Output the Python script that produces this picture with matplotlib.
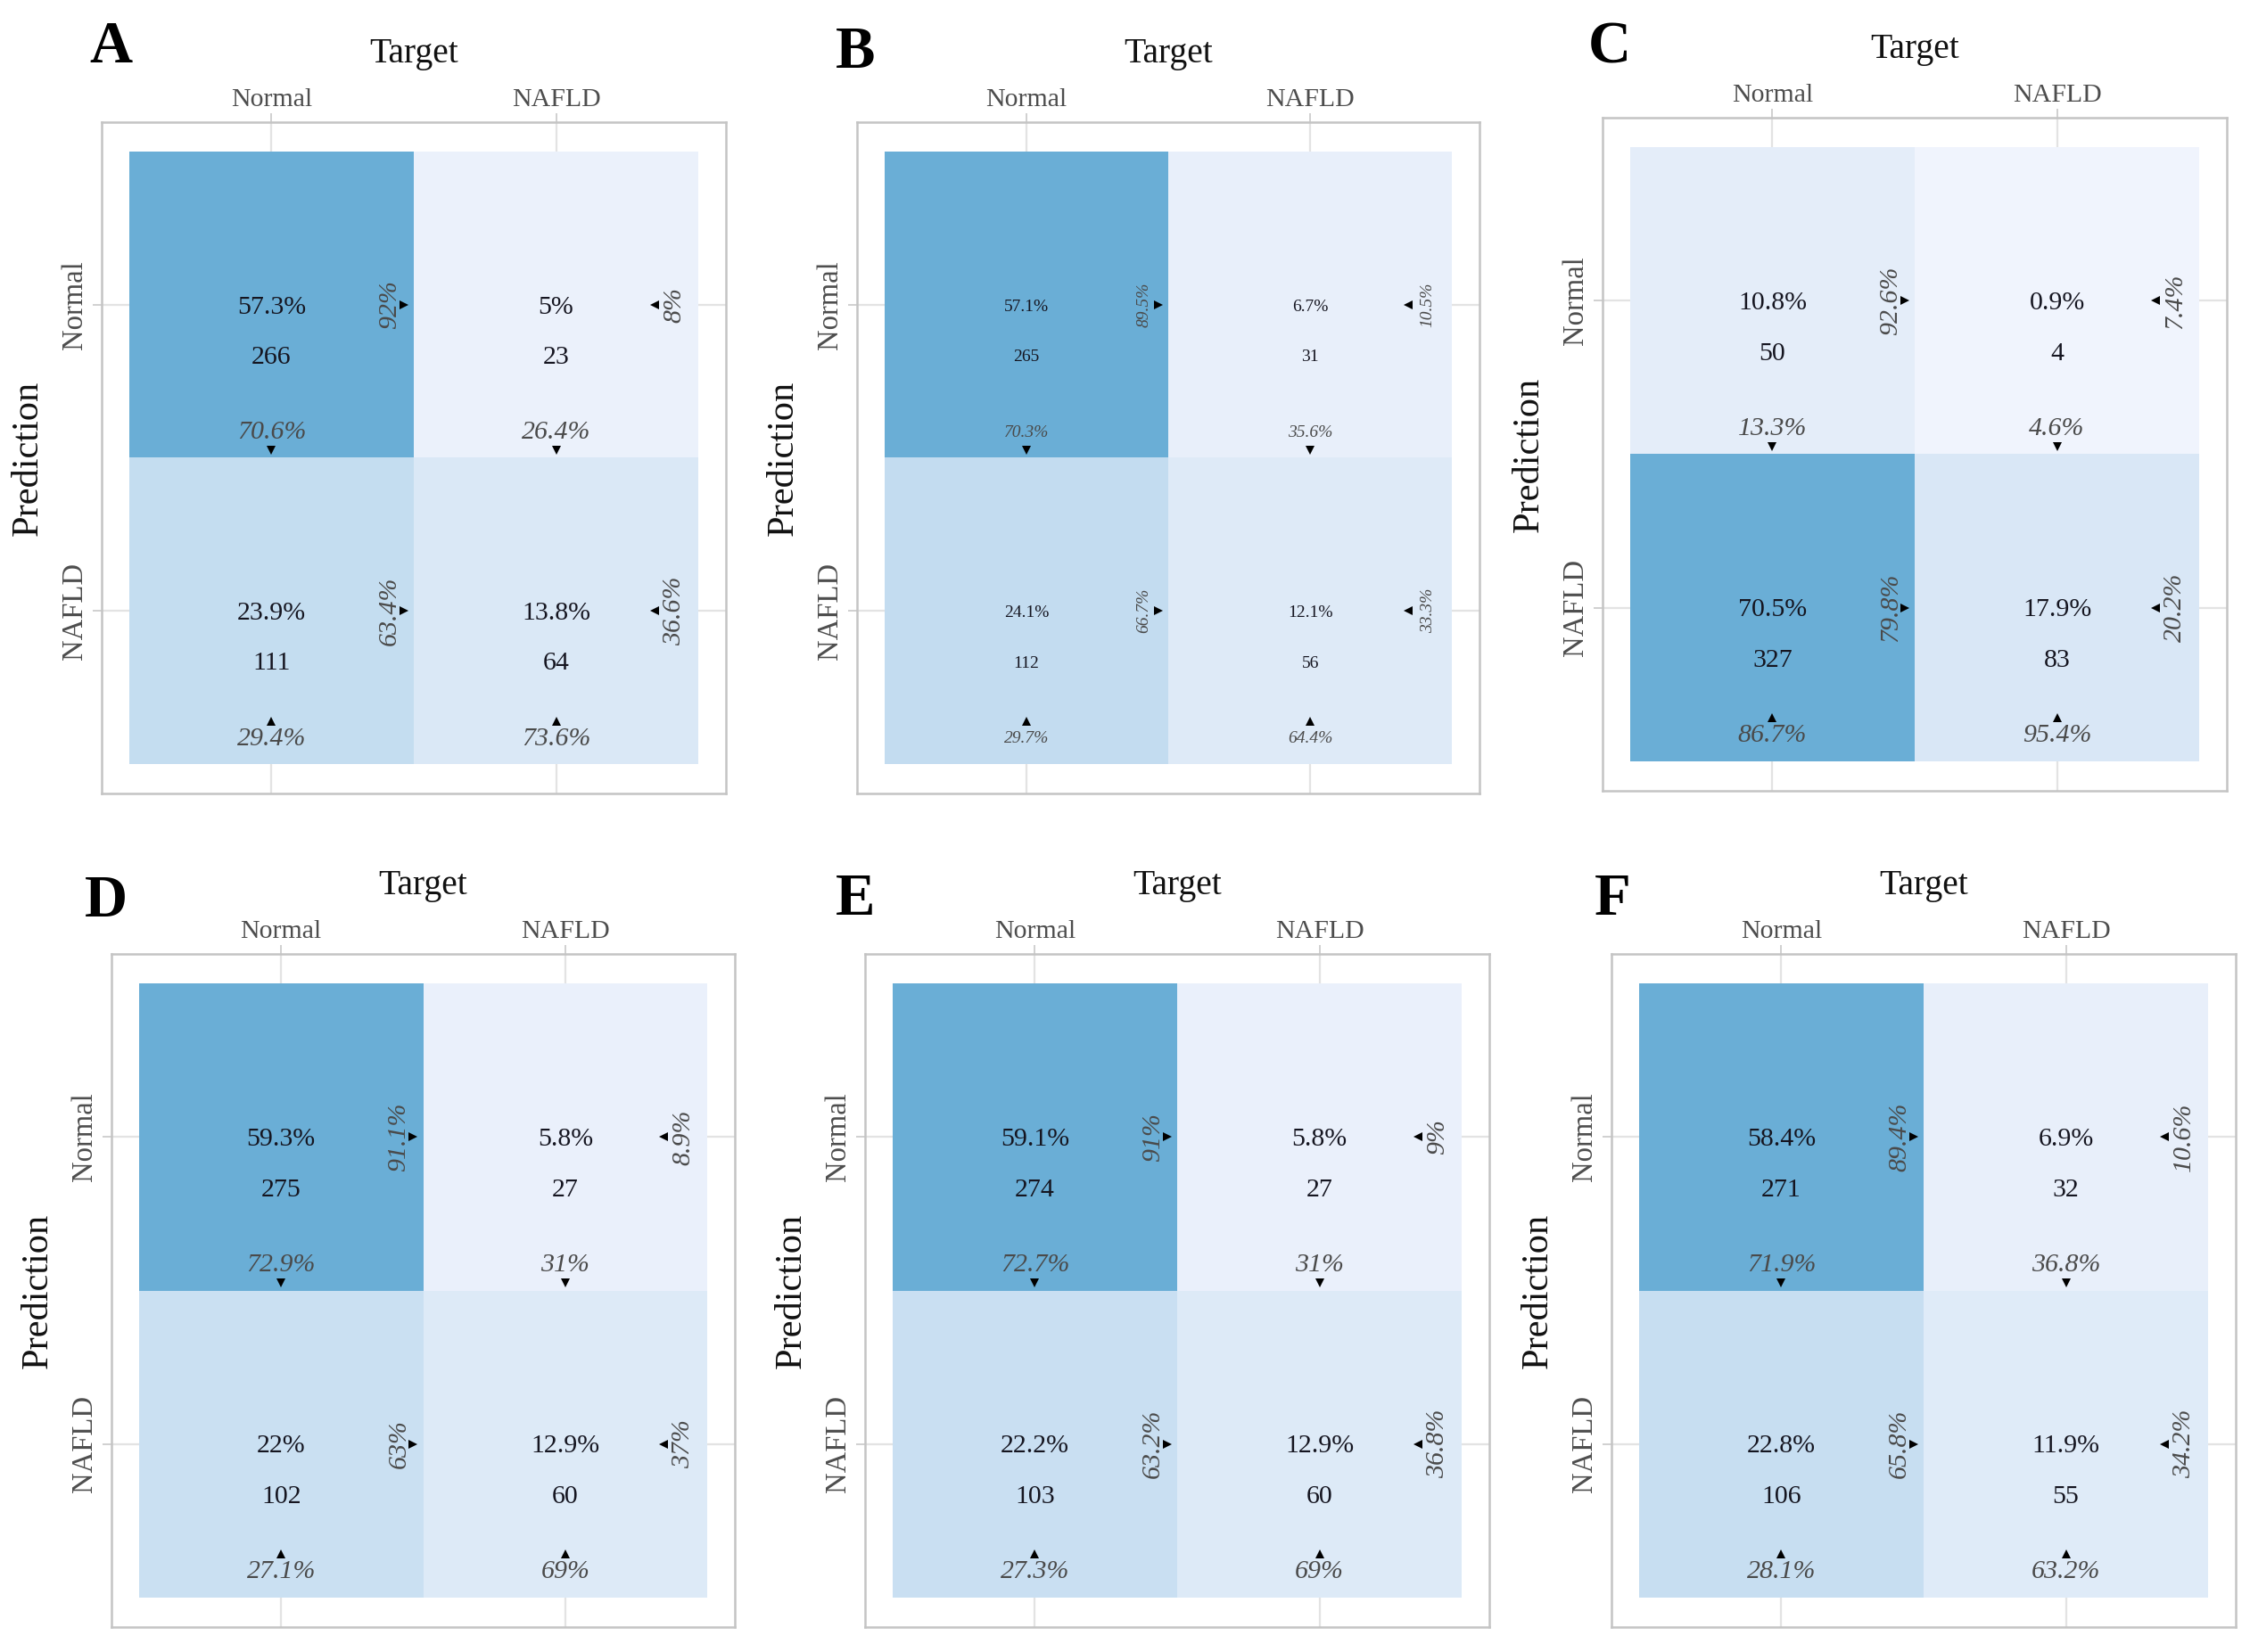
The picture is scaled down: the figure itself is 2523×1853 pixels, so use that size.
import numpy as np
import matplotlib
matplotlib.use("Agg")
import matplotlib.pyplot as plt
from matplotlib.colors import LinearSegmentedColormap, PowerNorm

plt.rcParams['font.family'] = ['Liberation Serif', 'DejaVu Serif']

# ---------------- data ----------------
panel_letters = ['A', 'B', 'C', 'D', 'E', 'F']
class_labels = ['Normal', 'NAFLD']  # rows = Prediction, cols = Target

counts_A = [[266, 23], [111, 64]]
total_pct_A = [[57.3, 5.0], [23.9, 13.8]]
col_pct_A = [[70.6, 26.4], [29.4, 73.6]]
row_pct_A = [[92.0, 8.0], [63.4, 36.6]]

counts_B = [[265, 31], [112, 56]]
total_pct_B = [[57.1, 6.7], [24.1, 12.1]]
col_pct_B = [[70.3, 35.6], [29.7, 64.4]]
row_pct_B = [[89.5, 10.5], [66.7, 33.3]]

counts_C = [[50, 4], [327, 83]]
total_pct_C = [[10.8, 0.9], [70.5, 17.9]]
col_pct_C = [[13.3, 4.6], [86.7, 95.4]]
row_pct_C = [[92.6, 7.4], [79.8, 20.2]]

counts_D = [[275, 27], [102, 60]]
total_pct_D = [[59.3, 5.8], [22.0, 12.9]]
col_pct_D = [[72.9, 31.0], [27.1, 69.0]]
row_pct_D = [[91.1, 8.9], [63.0, 37.0]]

counts_E = [[274, 27], [103, 60]]
total_pct_E = [[59.1, 5.8], [22.2, 12.9]]
col_pct_E = [[72.7, 31.0], [27.3, 69.0]]
row_pct_E = [[91.0, 9.0], [63.2, 36.8]]

counts_F = [[271, 32], [106, 55]]
total_pct_F = [[58.4, 6.9], [22.8, 11.9]]
col_pct_F = [[71.9, 36.8], [28.1, 63.2]]
row_pct_F = [[89.4, 10.6], [65.8, 34.2]]

panels = {
    'A': (counts_A, total_pct_A, col_pct_A, row_pct_A),
    'B': (counts_B, total_pct_B, col_pct_B, row_pct_B),
    'C': (counts_C, total_pct_C, col_pct_C, row_pct_C),
    'D': (counts_D, total_pct_D, col_pct_D, row_pct_D),
    'E': (counts_E, total_pct_E, col_pct_E, row_pct_E),
    'F': (counts_F, total_pct_F, col_pct_F, row_pct_F),
}

# ---------------- layout (pixels) ----------------
W, H = 2523, 1853
boxes = {  # left, top, right, bottom in pixels
    'A': (114, 137, 814, 890),
    'B': (961, 137, 1659, 890),
    'C': (1797, 132, 2497, 887),
    'D': (125, 1070, 824, 1825),
    'E': (970, 1070, 1670, 1825),
    'F': (1807, 1070, 2507, 1825),
}
letter_pos = {'A': (124, 54), 'B': (959, 59), 'C': (1805, 54),
              'D': (119, 1012), 'E': (959, 1010), 'F': (1808, 1010)}
inner_size = {'A': 21.5, 'B': 14, 'C': 21.5, 'D': 21.5, 'E': 21.5, 'F': 21.5}

cmap = LinearSegmentedColormap.from_list('tiles', ['#f1f4fd', '#6aaed6'])

def fmt(v):
    s = f"{v:.1f}"
    if s.endswith('.0'):
        s = s[:-2]
    return s + '%'

fig = plt.figure(figsize=(W / 100, H / 100), dpi=100)
fig.patch.set_facecolor('white')

pad = 0.097
for key in panel_letters:
    counts, tot, colp, rowp = [np.array(a, dtype=float) for a in panels[key]]
    l, t, r, b = boxes[key]
    ax = fig.add_axes([l / W, 1 - b / H, (r - l) / W, (b - t) / H])
    edges = np.array([0.5, 1.5, 2.5])
    norm = PowerNorm(gamma=1.25, vmin=0, vmax=counts.max())
    ax.pcolormesh(edges, edges, counts, cmap=cmap, norm=norm, zorder=1)
    ax.set_xlim(0.5 - pad, 2.5 + pad)
    ax.set_ylim(2.5 + pad, 0.5 - pad)
    ax.set_axisbelow(True)
    ax.grid(True, color='#e3e3e3', lw=1.6)
    for sp in ax.spines.values():
        sp.set_color('#c4c4c4')
        sp.set_linewidth(1.8)
    ax.xaxis.tick_top()
    ax.xaxis.set_label_position('top')
    ax.set_xticks([1, 2])
    ax.set_xticklabels(class_labels)
    ax.set_yticks([1, 2])
    ax.set_yticklabels(class_labels, rotation=90, va='center')
    ax.tick_params(axis='both', colors='#d0d0d0', length=7, width=1.4,
                   labelcolor='#4d4d4d')
    ax.tick_params(axis='x', labelsize=21.5, pad=1.5)
    ax.tick_params(axis='y', labelsize=23.5, pad=4)
    ax.set_xlabel('Target', fontsize=28.5, color='#111111', labelpad=20.8)
    ax.set_ylabel('Prediction', fontsize=30.5, color='#111111', labelpad=12.3)

    fs = inner_size[key]
    for i in range(2):       # prediction row
        for j in range(2):   # target column
            x, y = j + 1, i + 1
            ax.text(x, y + 0.008, fmt(tot[i, j]), ha='center', va='center',
                    fontsize=fs, color='#151520', zorder=3)
            ax.text(x, y + 0.172, f"{int(counts[i, j])}", ha='center',
                    va='center', fontsize=fs, color='#151520', zorder=3)
            # column percentage (bottom, italic)
            ax.text(x, y + 0.418, fmt(colp[i, j]), ha='center', va='center',
                    fontsize=fs, color='#4a4a4a', style='italic', zorder=3)
            if i == 0:
                ax.plot(x, y + 0.475, marker='v', color='black', ms=7,
                        mew=0, zorder=4)
            else:
                ax.plot(x, y + 0.36, marker='^', color='black', ms=7,
                        mew=0, zorder=4)
            # row percentage (right, rotated italic)
            ax.text(x + 0.415, y, fmt(rowp[i, j]), ha='center', va='center',
                    rotation=90, fontsize=fs, color='#4a4a4a',
                    style='italic', zorder=3)
            if j == 0:
                ax.plot(x + 0.465, y, marker='>', color='black', ms=7,
                        mew=0, zorder=4)
            else:
                ax.plot(x + 0.345, y, marker='<', color='black', ms=7,
                        mew=0, zorder=4)

    lx, ly = letter_pos[key]
    fig.text(lx / W, 1 - ly / H, key, fontsize=48, fontweight='bold',
             ha='center', va='center', color='black')

fig.savefig('out.png', dpi=100, facecolor='white')
